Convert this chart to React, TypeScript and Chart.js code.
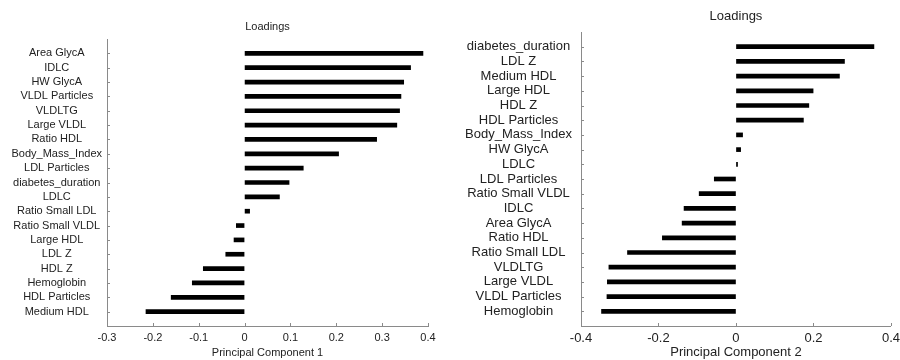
import React, { useEffect, useRef } from "react";
import { Chart, registerables } from "chart.js";

Chart.register(...registerables);

// ---- data ----
const pc1Labels = [
  "Area GlycA", "IDLC", "HW GlycA", "VLDL Particles", "VLDLTG", "Large VLDL",
  "Ratio HDL", "Body_Mass_Index", "LDL Particles", "diabetes_duration", "LDLC",
  "Ratio Small LDL", "Ratio Small VLDL", "Large HDL", "LDL Z", "HDL Z",
  "Hemoglobin", "HDL Particles", "Medium HDL",
];
const pc1Values = [
  0.389, 0.362, 0.347, 0.341, 0.338, 0.332,
  0.288, 0.205, 0.128, 0.097, 0.076,
  0.011, -0.018, -0.023, -0.041, -0.09,
  -0.114, -0.16, -0.215,
];
const pc2Labels = [
  "diabetes_duration", "LDL Z", "Medium HDL", "Large HDL", "HDL Z", "HDL Particles",
  "Body_Mass_Index", "HW GlycA", "LDLC", "LDL Particles", "Ratio Small VLDL",
  "IDLC", "Area GlycA", "Ratio HDL", "Ratio Small LDL", "VLDLTG",
  "Large VLDL", "VLDL Particles", "Hemoglobin",
];
const pc2Values = [
  0.356, 0.28, 0.267, 0.199, 0.188, 0.174,
  0.017, 0.012, 0.004, -0.056, -0.095,
  -0.134, -0.139, -0.19, -0.28, -0.328,
  -0.332, -0.333, -0.347,
];
const pc1Ticks = { min: -0.3, max: 0.4, step: 0.1 };
const pc2Ticks = { min: -0.4, max: 0.4, step: 0.2 };

const FONT = "'Liberation Sans', Arial, sans-serif";
const TEXT = "#222";
const AXIS = "#8a8a8a";

type PanelCfg = {
  labels: string[];
  values: number[];
  ticks: { min: number; max: number; step: number };
  axisTitle: string;
  fontSize: number;
  yWidth: number;
  xHeight: number;
  padTop: number;
  padRight: number;
  titlePadTop: number;
  titlePadBottom: number;
  labelPad: number;
};

const innerTicks = {
  id: "innerTicks",
  afterDatasetsDraw(chart: any) {
    const ctx = chart.ctx;
    const { left, bottom } = chart.chartArea;
    const xs = chart.scales.x;
    const ys = chart.scales.y;
    ctx.save();
    ctx.strokeStyle = AXIS;
    ctx.lineWidth = 1;
    ctx.beginPath();
    ys.ticks.forEach((t: any, i: number) => {
      const lbl = ys.getLabelForValue(t.value);
      if (!lbl) return;
      const y = Math.round(ys.getPixelForTick(i)) + 0.5;
      ctx.moveTo(left, y);
      ctx.lineTo(left + 3, y);
    });
    xs.ticks.forEach((_t: any, i: number) => {
      const x = Math.round(xs.getPixelForTick(i)) + 0.5;
      ctx.moveTo(x, bottom);
      ctx.lineTo(x, bottom - 3);
    });
    ctx.stroke();
    ctx.restore();
  },
};

function Panel({ cfg }: { cfg: PanelCfg }) {
  const ref = useRef<HTMLCanvasElement>(null);
  useEffect(() => {
    if (!ref.current) return;
    const labels = ["", ...cfg.labels, ""];
    const data = [null, ...cfg.values, null];
    const chart = new Chart(ref.current, {
      type: "bar",
      data: {
        labels,
        datasets: [
          {
            data: data as any,
            backgroundColor: "#000",
            borderWidth: 0,
            barThickness: 4,
          },
        ],
      },
      plugins: [innerTicks],
      options: {
        indexAxis: "y",
        animation: false,
        responsive: false,
        maintainAspectRatio: false,
        layout: { padding: { top: cfg.padTop, right: cfg.padRight, left: 0, bottom: 0 } },
        plugins: {
          legend: { display: false },
          tooltip: { enabled: false },
          title: {
            display: true,
            text: "Loadings",
            fullSize: false,
            color: TEXT,
            font: { family: FONT, size: cfg.fontSize, weight: "normal" },
            padding: { top: cfg.titlePadTop, bottom: cfg.titlePadBottom },
          },
        },
        scales: {
          x: {
            type: "linear",
            min: cfg.ticks.min,
            max: cfg.ticks.max,
            grid: {
              display: true,
              drawOnChartArea: false,
              drawTicks: true,
              tickLength: 5,
              tickColor: "rgba(0,0,0,0)",
            },
            border: { display: true, color: AXIS, width: 1 },
            ticks: {
              stepSize: cfg.ticks.step,
              color: TEXT,
              padding: 0,
              font: { family: FONT, size: cfg.fontSize },
              callback: (v: any) => String(Number(Number(v).toFixed(1))),
            },
            title: {
              display: true,
              text: cfg.axisTitle,
              color: TEXT,
              font: { family: FONT, size: cfg.fontSize },
              padding: { top: 0, bottom: 0 },
            },
            afterFit: (s: any) => {
              s.height = cfg.xHeight;
            },
          },
          y: {
            type: "category",
            offset: false,
            grid: { display: true, drawOnChartArea: false, drawTicks: false },
            border: { display: true, color: AXIS, width: 1 },
            ticks: {
              autoSkip: false,
              crossAlign: "center",
              padding: cfg.labelPad,
              color: TEXT,
              font: { family: FONT, size: cfg.fontSize },
            },
            afterFit: (s: any) => {
              s.width = cfg.yWidth;
            },
          },
        },
      } as any,
    });
    return () => chart.destroy();
  }, [cfg]);
  return <canvas ref={ref} width={450} height={360} style={{ display: "block", width: 450, height: 360 }} />;
}

const leftCfg: PanelCfg = {
  labels: pc1Labels,
  values: pc1Values,
  ticks: pc1Ticks,
  axisTitle: "Principal Component 1",
  fontSize: 11,
  yWidth: 107,
  xHeight: 34,
  padTop: 13,
  padRight: 22,
  titlePadTop: 7,
  titlePadBottom: 5.8,
  labelPad: 5,
};

const rightCfg: PanelCfg = {
  labels: pc2Labels,
  values: pc2Values,
  ticks: pc2Ticks,
  axisTitle: "Principal Component 2",
  fontSize: 13,
  yWidth: 131,
  xHeight: 34,
  padTop: 0,
  padRight: 9,
  titlePadTop: 8.2,
  titlePadBottom: 8.2,
  labelPad: 9,
};

export default function App() {
  useEffect(() => {
    document.body.style.margin = "0";
    document.body.style.background = "#fff";
  }, []);
  return (
    <div style={{ display: "flex", width: 900, height: 360, background: "#fff" }}>
      <Panel cfg={leftCfg} />
      <Panel cfg={rightCfg} />
    </div>
  );
}
